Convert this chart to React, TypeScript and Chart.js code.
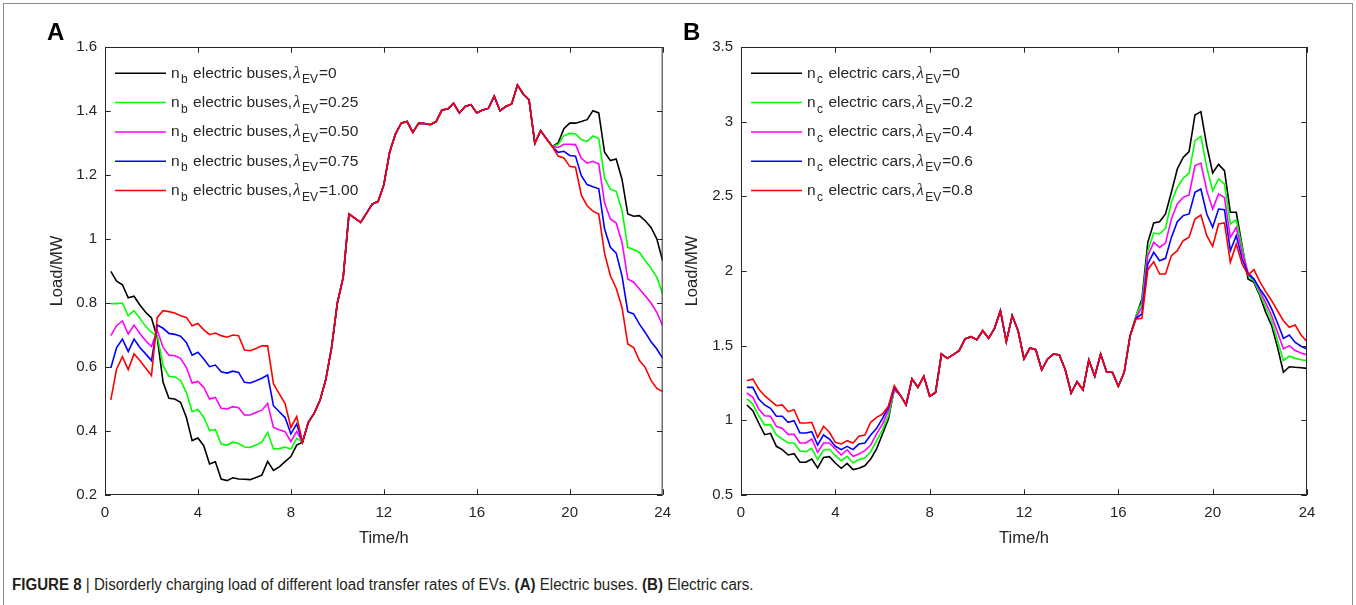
import React, { useEffect, useRef } from "react";
import { Chart, registerables } from "chart.js";

Chart.register(...registerables);

// ---------- data ----------
const TIME_H = [
  0.25, 0.5, 0.75, 1, 1.25, 1.5, 1.75, 2, 2.25, 2.5, 2.75, 3, 3.25, 3.5, 3.75, 4,
  4.25, 4.5, 4.75, 5, 5.25, 5.5, 5.75, 6, 6.25, 6.5, 6.75, 7, 7.25, 7.5, 7.75, 8,
  8.25, 8.5, 8.75, 9, 9.25, 9.5, 9.75, 10, 10.25, 10.5, 10.75, 11, 11.25, 11.5, 11.75, 12,
  12.25, 12.5, 12.75, 13, 13.25, 13.5, 13.75, 14, 14.25, 14.5, 14.75, 15, 15.25, 15.5, 15.75, 16,
  16.25, 16.5, 16.75, 17, 17.25, 17.5, 17.75, 18, 18.25, 18.5, 18.75, 19, 19.25, 19.5, 19.75, 20,
  20.25, 20.5, 20.75, 21, 21.25, 21.5, 21.75, 22, 22.25, 22.5, 22.75, 23, 23.25, 23.5, 23.75, 24,
];

const X_TICKS = [0, 4, 8, 12, 16, 20, 24];
const BUS_Y_TICKS = [0.2, 0.4, 0.6, 0.8, 1.0, 1.2, 1.4, 1.6];
const BUS_Y_LABELS = ["0.2", "0.4", "0.6", "0.8", "1", "1.2", "1.4", "1.6"];
const CAR_Y_TICKS = [0.5, 1.0, 1.5, 2.0, 2.5, 3.0, 3.5];
const CAR_Y_LABELS = ["0.5", "1", "1.5", "2", "2.5", "3", "3.5"];

const SERIES_COLORS = ["#000000", "#00ff00", "#ff00ff", "#0000ff", "#ff0000"];
const BUS_LAMBDA = ["0", "0.25", "0.50", "0.75", "1.00"];
const CAR_LAMBDA = ["0", "0.2", "0.4", "0.6", "0.8"];

// Electric buses, t = 0.25 .. 8.5 h
const BUS_HEAD_0 = [0.899, 0.868, 0.857, 0.816, 0.821, 0.794, 0.771, 0.753, 0.691, 0.552, 0.502, 0.5, 0.49, 0.443, 0.37, 0.378, 0.354, 0.297, 0.304, 0.25, 0.245, 0.254, 0.25, 0.249, 0.248, 0.255, 0.262, 0.305, 0.277, 0.288, 0.304, 0.32, 0.356, 0.365];
const BUS_HEAD_25 = [0.798, 0.798, 0.8, 0.76, 0.776, 0.752, 0.727, 0.708, 0.698, 0.604, 0.571, 0.569, 0.558, 0.521, 0.46, 0.467, 0.443, 0.401, 0.404, 0.359, 0.356, 0.365, 0.361, 0.35, 0.349, 0.356, 0.365, 0.396, 0.344, 0.345, 0.35, 0.344, 0.377, 0.365];
const BUS_HEAD_50 = [0.698, 0.729, 0.744, 0.703, 0.731, 0.705, 0.682, 0.664, 0.714, 0.661, 0.637, 0.635, 0.627, 0.599, 0.55, 0.555, 0.536, 0.5, 0.505, 0.471, 0.469, 0.476, 0.473, 0.45, 0.45, 0.458, 0.465, 0.486, 0.411, 0.404, 0.398, 0.367, 0.399, 0.365];
const BUS_HEAD_75 = [0.597, 0.661, 0.687, 0.648, 0.687, 0.661, 0.641, 0.62, 0.731, 0.721, 0.705, 0.702, 0.696, 0.677, 0.637, 0.646, 0.625, 0.601, 0.606, 0.585, 0.581, 0.587, 0.583, 0.552, 0.55, 0.557, 0.565, 0.575, 0.479, 0.46, 0.442, 0.391, 0.422, 0.365];
const BUS_HEAD_100 = [0.497, 0.594, 0.632, 0.592, 0.641, 0.62, 0.597, 0.573, 0.755, 0.776, 0.773, 0.769, 0.76, 0.755, 0.729, 0.736, 0.716, 0.701, 0.706, 0.698, 0.693, 0.7, 0.698, 0.653, 0.651, 0.658, 0.666, 0.666, 0.547, 0.516, 0.486, 0.411, 0.445, 0.365];
// Electric buses, common part t = 8.75 .. 19.25 h
const BUS_SHARED = [0.427, 0.455, 0.495, 0.56, 0.66, 0.8, 0.88, 1.078, 1.065, 1.052, 1.08, 1.109, 1.117, 1.169, 1.271, 1.328, 1.362, 1.367, 1.333, 1.362, 1.361, 1.357, 1.367, 1.403, 1.406, 1.424, 1.394, 1.414, 1.42, 1.394, 1.403, 1.408, 1.446, 1.401, 1.414, 1.422, 1.481, 1.453, 1.435, 1.299, 1.339, 1.313, 1.289];
// Electric buses, t = 19.5 .. 24 h
const BUS_TAIL_0 = [1.3, 1.345, 1.362, 1.362, 1.367, 1.373, 1.401, 1.394, 1.271, 1.245, 1.25, 1.187, 1.078, 1.071, 1.073, 1.057, 1.036, 1.0, 0.932];
const BUS_TAIL_25 = [1.295, 1.323, 1.33, 1.329, 1.31, 1.305, 1.322, 1.314, 1.19, 1.155, 1.149, 1.089, 0.974, 0.967, 0.958, 0.932, 0.909, 0.88, 0.828];
const BUS_TAIL_50 = [1.286, 1.296, 1.296, 1.295, 1.252, 1.237, 1.243, 1.234, 1.113, 1.0625, 1.05, 0.99, 0.875, 0.865, 0.844, 0.823, 0.8, 0.771, 0.729];
const BUS_TAIL_75 = [1.271, 1.274, 1.261, 1.259, 1.198, 1.17, 1.163, 1.157, 1.031, 0.974, 0.956, 0.885, 0.773, 0.766, 0.734, 0.708, 0.679, 0.656, 0.627];
const BUS_TAIL_100 = [1.259, 1.253, 1.227, 1.224, 1.137, 1.104, 1.087, 1.078, 0.955, 0.885, 0.846, 0.786, 0.672, 0.661, 0.62, 0.599, 0.558, 0.533, 0.523];

// Electric cars, t = 0.25 .. 6.5 h
const CAR_HEAD_0 = [1.103, 1.065, 0.982, 0.904, 0.913, 0.826, 0.804, 0.768, 0.777, 0.719, 0.719, 0.741, 0.681, 0.752, 0.757, 0.714, 0.679, 0.712, 0.67, 0.679, 0.696, 0.741, 0.808, 0.909, 1.009, 1.21];
const CAR_HEAD_2 = [1.143, 1.109, 1.031, 0.969, 0.971, 0.902, 0.875, 0.848, 0.848, 0.795, 0.79, 0.812, 0.737, 0.801, 0.806, 0.763, 0.73, 0.759, 0.714, 0.737, 0.748, 0.79, 0.864, 0.938, 1.031, 1.199];
const CAR_HEAD_4 = [1.183, 1.154, 1.076, 1.031, 1.027, 0.96, 0.946, 0.906, 0.906, 0.848, 0.848, 0.875, 0.786, 0.848, 0.848, 0.808, 0.768, 0.803, 0.759, 0.775, 0.797, 0.835, 0.909, 0.975, 1.065, 1.205];
const CAR_HEAD_6 = [1.221, 1.221, 1.143, 1.103, 1.08, 1.027, 1.027, 0.987, 0.998, 0.915, 0.915, 0.924, 0.835, 0.902, 0.875, 0.826, 0.804, 0.826, 0.804, 0.841, 0.848, 0.902, 0.946, 1.013, 1.087, 1.221];
const CAR_HEAD_8 = [1.265, 1.277, 1.21, 1.165, 1.132, 1.098, 1.103, 1.058, 1.071, 0.982, 0.982, 0.987, 0.886, 0.96, 0.92, 0.853, 0.842, 0.864, 0.848, 0.893, 0.902, 0.987, 1.02, 1.042, 1.094, 1.232];
// Electric cars, common part t = 6.75 .. 16.5 h
const CAR_SHARED = [1.17, 1.103, 1.277, 1.221, 1.295, 1.161, 1.187, 1.444, 1.415, 1.44, 1.467, 1.545, 1.56, 1.54, 1.6, 1.549, 1.616, 1.734, 1.527, 1.701, 1.6, 1.411, 1.484, 1.473, 1.337, 1.411, 1.444, 1.437, 1.339, 1.183, 1.259, 1.205, 1.404, 1.295, 1.444, 1.326, 1.321, 1.228, 1.321, 1.567];
// Electric cars, t = 16.75 .. 24 h
const CAR_TAIL_0 = [1.697, 1.812, 2.192, 2.322, 2.33, 2.382, 2.527, 2.683, 2.761, 2.799, 3.045, 3.067, 2.839, 2.656, 2.714, 2.672, 2.393, 2.393, 2.17, 1.946, 1.924, 1.835, 1.723, 1.634, 1.489, 1.322, 1.359, 1.355, 1.352, 1.348];
const CAR_TAIL_2 = [1.701, 1.79, 2.136, 2.254, 2.248, 2.286, 2.46, 2.56, 2.621, 2.656, 2.873, 2.902, 2.694, 2.538, 2.616, 2.583, 2.315, 2.344, 2.158, 1.969, 1.935, 1.846, 1.757, 1.667, 1.534, 1.4, 1.429, 1.415, 1.406, 1.4];
const CAR_TAIL_4 = [1.69, 1.757, 2.103, 2.192, 2.158, 2.187, 2.348, 2.449, 2.493, 2.509, 2.705, 2.723, 2.538, 2.415, 2.516, 2.493, 2.225, 2.292, 2.125, 1.991, 1.946, 1.868, 1.786, 1.701, 1.589, 1.478, 1.5, 1.467, 1.451, 1.438];
const CAR_TAIL_6 = [1.683, 1.712, 2.047, 2.125, 2.069, 2.085, 2.225, 2.33, 2.371, 2.382, 2.527, 2.549, 2.382, 2.293, 2.415, 2.411, 2.136, 2.237, 2.08, 1.98, 1.946, 1.88, 1.824, 1.746, 1.652, 1.549, 1.571, 1.522, 1.496, 1.478];
const CAR_TAIL_8 = [1.679, 1.683, 2.009, 2.062, 1.98, 1.98, 2.103, 2.136, 2.203, 2.226, 2.348, 2.375, 2.237, 2.165, 2.315, 2.322, 2.058, 2.181, 2.047, 1.973, 2.009, 1.929, 1.862, 1.801, 1.734, 1.667, 1.623, 1.638, 1.571, 1.527];

const BUS_SERIES = [
  [...BUS_HEAD_0, ...BUS_SHARED, ...BUS_TAIL_0],
  [...BUS_HEAD_25, ...BUS_SHARED, ...BUS_TAIL_25],
  [...BUS_HEAD_50, ...BUS_SHARED, ...BUS_TAIL_50],
  [...BUS_HEAD_75, ...BUS_SHARED, ...BUS_TAIL_75],
  [...BUS_HEAD_100, ...BUS_SHARED, ...BUS_TAIL_100],
];
const CAR_SERIES = [
  [...CAR_HEAD_0, ...CAR_SHARED, ...CAR_TAIL_0],
  [...CAR_HEAD_2, ...CAR_SHARED, ...CAR_TAIL_2],
  [...CAR_HEAD_4, ...CAR_SHARED, ...CAR_TAIL_4],
  [...CAR_HEAD_6, ...CAR_SHARED, ...CAR_TAIL_6],
  [...CAR_HEAD_8, ...CAR_SHARED, ...CAR_TAIL_8],
];

// ---------- styling ----------
const AXIS_COLOR = "#262626";
const SANS = '"Liberation Sans", Arial, Helvetica, sans-serif';

type Panel = {
  key: string;
  letter: string;
  canvasLeft: number;
  canvasWidth: number;
  area: { left: number; right: number; top: number; bottom: number };
  yMin: number;
  yMax: number;
  yTicks: number[];
  yLabels: string[];
  series: number[][];
  legendSub: string;
  legendBody: string;
  lambdas: string[];
  yTitleX: number;
};

const CANVAS_H = 560;

const PANELS: Panel[] = [
  {
    key: "A",
    letter: "A",
    canvasLeft: 0,
    canvasWidth: 680,
    area: { left: 105, right: 671, top: 47, bottom: 495 },
    yMin: 0.2,
    yMax: 1.6,
    yTicks: BUS_Y_TICKS,
    yLabels: BUS_Y_LABELS,
    series: BUS_SERIES,
    legendSub: "b",
    legendBody: " electric buses,",
    lambdas: BUS_LAMBDA,
    yTitleX: 57,
  },
  {
    key: "B",
    letter: "B",
    canvasLeft: 680,
    canvasWidth: 676,
    area: { left: 741, right: 1307, top: 47, bottom: 495 },
    yMin: 0.5,
    yMax: 3.5,
    yTicks: CAR_Y_TICKS,
    yLabels: CAR_Y_LABELS,
    series: CAR_SERIES,
    legendSub: "c",
    legendBody: " electric cars,",
    lambdas: CAR_LAMBDA,
    yTitleX: 692,
  },
];

function decorPlugin(p: Panel) {
  return {
    id: "decor" + p.key,
    afterDraw(chart: any) {
      const ctx: CanvasRenderingContext2D = chart.ctx;
      const a = chart.chartArea;
      const xs = chart.scales.x;
      const ys = chart.scales.y;
      const off = p.canvasLeft;
      ctx.save();
      // box
      ctx.strokeStyle = AXIS_COLOR;
      ctx.lineWidth = 1;
      ctx.beginPath();
      ctx.rect(a.left + 0.5, a.top + 0.5, a.right - a.left - 1, a.bottom - a.top - 1);
      ctx.stroke();
      // inward ticks on all sides
      const TL = 5.7;
      ctx.beginPath();
      for (const v of X_TICKS) {
        const px = Math.round(xs.getPixelForValue(v)) + 0.5;
        ctx.moveTo(px, a.bottom);
        ctx.lineTo(px, a.bottom - TL);
        ctx.moveTo(px, a.top);
        ctx.lineTo(px, a.top + TL);
      }
      for (const v of p.yTicks) {
        const py = Math.round(ys.getPixelForValue(v)) + 0.5;
        ctx.moveTo(a.left, py);
        ctx.lineTo(a.left + TL, py);
        ctx.moveTo(a.right, py);
        ctx.lineTo(a.right - TL, py);
      }
      ctx.stroke();

      // axis titles
      ctx.fillStyle = AXIS_COLOR;
      ctx.font = "16.5px " + SANS;
      ctx.textAlign = "center";
      ctx.textBaseline = "middle";
      ctx.fillText("Time/h", (a.left + a.right) / 2, 538);
      ctx.save();
      ctx.translate(p.yTitleX - off, (a.top + a.bottom) / 2);
      ctx.rotate(-Math.PI / 2);
      ctx.fillText("Load/MW", 0, 0);
      ctx.restore();

      // panel letter
      ctx.fillStyle = "#000000";
      ctx.font = "bold 24px " + SANS;
      ctx.textAlign = "left";
      ctx.textBaseline = "alphabetic";
      ctx.fillText(p.letter, a.left - 58, 40);

      // legend
      const rowGap = 29.3;
      for (let i = 0; i < p.series.length; i++) {
        const ly = a.top + 26.3 + i * rowGap;
        ctx.strokeStyle = SERIES_COLORS[i];
        ctx.lineWidth = 1.5;
        ctx.beginPath();
        ctx.moveTo(a.left + 10, ly);
        ctx.lineTo(a.left + 61, ly);
        ctx.stroke();

        const base = ly + 4.5;
        let cx = a.left + 66;
        ctx.fillStyle = AXIS_COLOR;
        ctx.textAlign = "left";
        ctx.textBaseline = "alphabetic";
        const runs: { t: string; kind: "n" | "s" | "g" }[] = [
          { t: "n", kind: "n" },
          { t: p.legendSub, kind: "s" },
          { t: p.legendBody, kind: "n" },
          { t: "\u03bb", kind: "g" },
          { t: "EV", kind: "s" },
          { t: "=" + p.lambdas[i], kind: "n" },
        ];
        for (const r of runs) {
          let dy = 0;
          if (r.kind === "s") {
            ctx.font = "12px " + SANS;
            dy = 5.5;
            cx += 1.5;
          } else if (r.kind === "g") {
            ctx.font = 'italic 17px "Liberation Serif", "Times New Roman", serif';
            cx += 1;
          } else {
            ctx.font = "15.5px " + SANS;
          }
          ctx.fillText(r.t, cx, base + dy);
          cx += ctx.measureText(r.t).width + (r.kind === "s" ? 1 : 0);
        }
      }
      ctx.restore();
    },
  };
}

function PanelChart({ p }: { p: Panel }) {
  const ref = useRef<HTMLCanvasElement | null>(null);
  useEffect(() => {
    if (!ref.current) return;
    const padRight = p.canvasLeft + p.canvasWidth - p.area.right;
    const yWidth = p.area.left - p.canvasLeft;
    const xHeight = CANVAS_H - p.area.bottom;
    const datasets = p.series.map((vals, i) => ({
      label: "s" + i,
      data: TIME_H.map((t, j) => ({ x: t, y: vals[j] })),
      borderColor: SERIES_COLORS[i],
      backgroundColor: SERIES_COLORS[i],
      borderWidth: 1.6,
      pointRadius: 0,
      pointHoverRadius: 0,
      tension: 0,
      fill: false,
      order: p.series.length - i,
    }));
    const chart = new Chart(ref.current, {
      type: "line",
      data: { datasets },
      options: {
        animation: false,
        responsive: false,
        devicePixelRatio: 1,
        events: [],
        layout: { padding: { left: 0, right: padRight, top: p.area.top, bottom: 0 } },
        plugins: { legend: { display: false }, tooltip: { enabled: false }, title: { display: false } },
        scales: {
          x: {
            type: "linear",
            min: 0,
            max: 24,
            afterBuildTicks: (s: any) => {
              s.ticks = X_TICKS.map((v) => ({ value: v }));
            },
            afterFit: (s: any) => {
              s.height = xHeight;
            },
            grid: { display: false, drawTicks: false },
            border: { display: false },
            ticks: {
              color: AXIS_COLOR,
              font: { family: SANS, size: 15 },
              padding: 9,
              maxRotation: 0,
              callback: (v: any) => String(v),
            },
          },
          y: {
            type: "linear",
            min: p.yMin,
            max: p.yMax,
            afterBuildTicks: (s: any) => {
              s.ticks = p.yTicks.map((v) => ({ value: v }));
            },
            afterFit: (s: any) => {
              s.width = yWidth;
            },
            grid: { display: false, drawTicks: false },
            border: { display: false },
            ticks: {
              color: AXIS_COLOR,
              font: { family: SANS, size: 15 },
              padding: 8,
              callback: (_v: any, idx: number) => p.yLabels[idx],
            },
          },
        },
      },
      plugins: [decorPlugin(p)],
    } as any);
    return () => chart.destroy();
  }, [p]);
  return (
    <canvas
      ref={ref}
      width={p.canvasWidth}
      height={CANVAS_H}
      style={{ position: "absolute", left: p.canvasLeft, top: 0, width: p.canvasWidth, height: CANVAS_H }}
    />
  );
}

export default function App() {
  return (
    <div style={{ position: "absolute", left: 0, top: 0, width: 1356, height: 605, background: "#ffffff", overflow: "hidden" }}>
      <div
        style={{
          position: "absolute",
          left: 3,
          top: 3,
          width: 1348,
          height: 610,
          borderLeft: "1px solid #8c8c8c",
          borderTop: "1px solid #8c8c8c",
          borderRight: "1px solid #8c8c8c",
        }}
      />
      {PANELS.map((p) => (
        <PanelChart key={p.key} p={p} />
      ))}
      <div
        style={{
          position: "absolute",
          left: 12,
          top: 577,
          whiteSpace: "nowrap",
          fontFamily: '"Liberation Sans Narrow", "Arial Narrow", "Liberation Sans", Arial, sans-serif',
          fontSize: 16,
          lineHeight: "16px",
          color: "#231f20",
          transform: "scaleX(0.943)",
          transformOrigin: "0 0",
        }}
      >
        <b>FIGURE 8</b> | Disorderly charging load of different load transfer rates of EVs. <b>(A)</b> Electric buses.{" "}
        <b>(B)</b> Electric cars.
      </div>
    </div>
  );
}
